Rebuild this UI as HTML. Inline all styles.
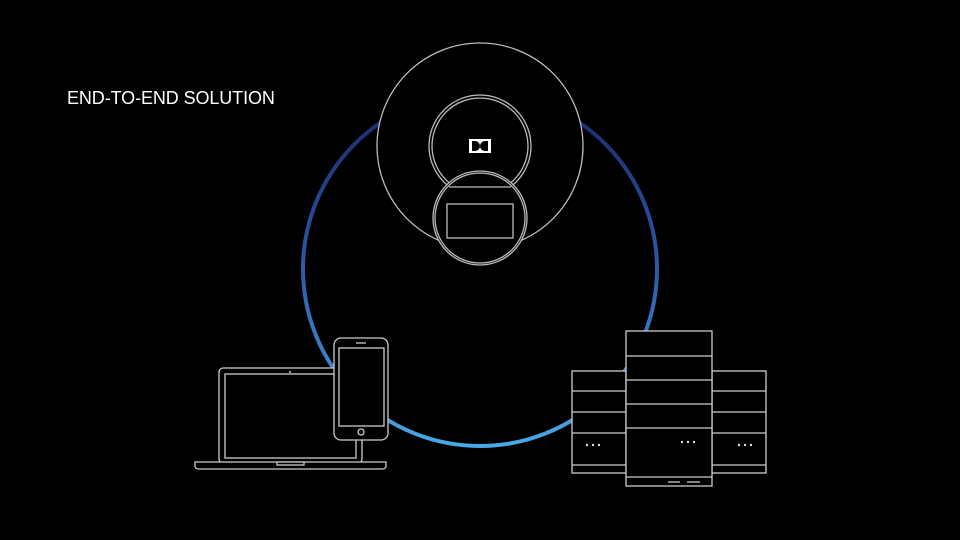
<!DOCTYPE html>
<html><head><style>
html,body{margin:0;padding:0;background:#000;width:960px;height:540px;overflow:hidden}
.t{position:absolute;left:67px;top:88px;color:#fff;font:18px "Liberation Sans",sans-serif;letter-spacing:-0.1px}
</style></head><body>
<div class="t">END-TO-END SOLUTION</div>
<svg width="960" height="540" style="position:absolute;left:0;top:0">
<defs><linearGradient id="g" x1="0" y1="0" x2="0" y2="1">
<stop offset="0" stop-color="#1a2466"/><stop offset="0.5" stop-color="#2c5aa8"/><stop offset="1" stop-color="#4aa8e6"/></linearGradient></defs>
<circle cx="480" cy="269" r="177" fill="none" stroke="url(#g)" stroke-width="4"/>
<g fill="#000" stroke="#bbb" stroke-width="1.3">
<circle cx="480" cy="146" r="103"/>
<circle cx="480" cy="146" r="51"/>
<circle cx="480" cy="146" r="48"/>
<circle cx="480" cy="218" r="47"/>
<circle cx="480" cy="218" r="45"/>
<line x1="449" y1="187" x2="511" y2="187"/>
<rect x="447" y="204" width="66" height="34" fill="none"/>
</g>
<rect x="469" y="139" width="22" height="14" fill="#fff"/>
<path d="M472 141 h3 a5 5 0 0 1 0 10 h-3z M488 141 h-3 a5 5 0 0 0 0 10 h3z" fill="#000"/>
<g fill="#000" stroke="#ccc" stroke-width="1.3">
<rect x="219" y="368" width="143" height="95" rx="4"/>
<rect x="225" y="374" width="131" height="84"/>
<path d="M195 462 h191 v4 q0 3 -4 3 h-183 q-4 0 -4 -3z"/>
<rect x="277" y="462" width="27" height="3"/>
<rect x="334" y="338" width="54" height="102" rx="7"/>
<rect x="339" y="348" width="45" height="78"/>
<circle cx="361" cy="432" r="3"/>
<line x1="356" y1="343" x2="366" y2="343"/>
<rect x="572" y="371" width="54" height="102"/>
<rect x="712" y="371" width="54" height="102"/>
<rect x="626" y="331" width="86" height="155"/>
</g>
<circle cx="290" cy="372" r="1" fill="#ccc"/>
<g stroke="#ccc" stroke-width="1.3">
<line x1="626" y1="356" x2="712" y2="356"/><line x1="626" y1="380" x2="712" y2="380"/>
<line x1="626" y1="404" x2="712" y2="404"/><line x1="626" y1="428" x2="712" y2="428"/>
<line x1="626" y1="477" x2="712" y2="477"/>
<line x1="668" y1="482" x2="680" y2="482"/><line x1="687" y1="482" x2="700" y2="482"/>
<line x1="572" y1="391" x2="626" y2="391"/><line x1="572" y1="412" x2="626" y2="412"/><line x1="572" y1="433" x2="626" y2="433"/><line x1="572" y1="465" x2="626" y2="465"/>
<line x1="712" y1="391" x2="766" y2="391"/><line x1="712" y1="412" x2="766" y2="412"/><line x1="712" y1="433" x2="766" y2="433"/><line x1="712" y1="465" x2="766" y2="465"/>
</g>
<g fill="#ddd">
<circle cx="587" cy="445" r="1.2"/><circle cx="593" cy="445" r="1.2"/><circle cx="599" cy="445" r="1.2"/>
<circle cx="682" cy="442" r="1.2"/><circle cx="688" cy="442" r="1.2"/><circle cx="694" cy="442" r="1.2"/>
<circle cx="739" cy="445" r="1.2"/><circle cx="745" cy="445" r="1.2"/><circle cx="751" cy="445" r="1.2"/>
</g>
</svg>
</body></html>
